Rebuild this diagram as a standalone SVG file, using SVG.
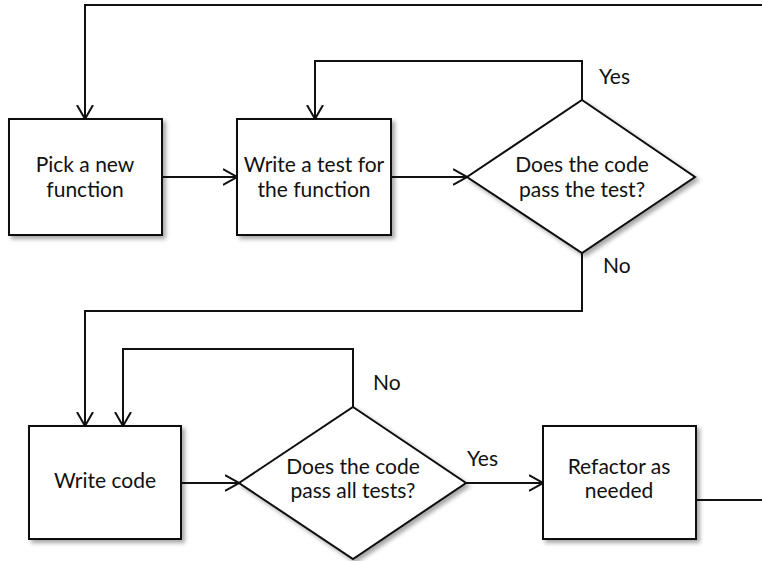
<svg xmlns="http://www.w3.org/2000/svg" width="762" height="561" viewBox="0 0 762 561">
<defs>
<filter id="sh" x="-10%" y="-10%" width="130%" height="130%">
<feDropShadow dx="3" dy="3" stdDeviation="2" flood-color="#000" flood-opacity="0.35"/>
</filter>
<marker id="arr" viewBox="0 0 14 18" refX="14" refY="9" markerWidth="14" markerHeight="18" markerUnits="userSpaceOnUse" orient="auto">
<path d="M0,1 L14,9 L0,17" fill="none" stroke="#111" stroke-width="2"/>
</marker>
<style>
.n{fill:#fff;stroke:#111;stroke-width:2;filter:url(#sh)}
.c{fill:none;stroke:#111;stroke-width:2}
.t{font-family:Lato,"Liberation Sans",sans-serif;font-size:21px;fill:#111;text-anchor:middle}
.l{font-family:Lato,"Liberation Sans",sans-serif;font-size:21px;fill:#111}
</style>
</defs>
<rect width="762" height="561" fill="#fff"/>
<g id="connectors">
<path class="c" d="M762,5 H85 V119" marker-end="url(#arr)"/>
<path class="c" d="M162,177 H237" marker-end="url(#arr)"/>
<path class="c" d="M391,177 H467" marker-end="url(#arr)"/>
<path class="c" d="M582,100 V61 H315 V119" marker-end="url(#arr)"/>
<path class="c" d="M582,252 V311 H85 V426" marker-end="url(#arr)"/>
<path class="c" d="M353,407 V349 H123 V426" marker-end="url(#arr)"/>
<path class="c" d="M181,483 H239" marker-end="url(#arr)"/>
<path class="c" d="M466,483 H543" marker-end="url(#arr)"/>
<path class="c" d="M696,500 H762"/>
<text class="l" x="599" y="84">Yes</text>
<text class="l" x="603" y="273">No</text>
<text class="l" x="373" y="390">No</text>
<text class="l" x="467" y="466">Yes</text>
</g>
<g id="pick">
<rect class="n" x="9" y="119" width="153" height="116"/>
<text class="t" x="85" y="172">Pick a new</text>
<text class="t" x="85" y="197">function</text>
</g>
<g id="writetest">
<rect class="n" x="237" y="119" width="154" height="116"/>
<text class="t" x="314" y="172">Write a test for</text>
<text class="t" x="314" y="197">the function</text>
</g>
<g id="passtest">
<polygon class="n" points="582,100 695,177 582,253 467,177"/>
<text class="t" x="582" y="172">Does the code</text>
<text class="t" x="582" y="197">pass the test?</text>
</g>
<g id="writecode">
<rect class="n" x="29" y="426" width="152" height="113"/>
<text class="t" x="105" y="488">Write code</text>
</g>
<g id="passall">
<polygon class="n" points="353,407 466,483 353,559 239,483"/>
<text class="t" x="353" y="474">Does the code</text>
<text class="t" x="353" y="498">pass all tests?</text>
</g>
<g id="refactor">
<rect class="n" x="543" y="426" width="153" height="113"/>
<text class="t" x="619" y="474">Refactor as</text>
<text class="t" x="619" y="498">needed</text>
</g>
</svg>
